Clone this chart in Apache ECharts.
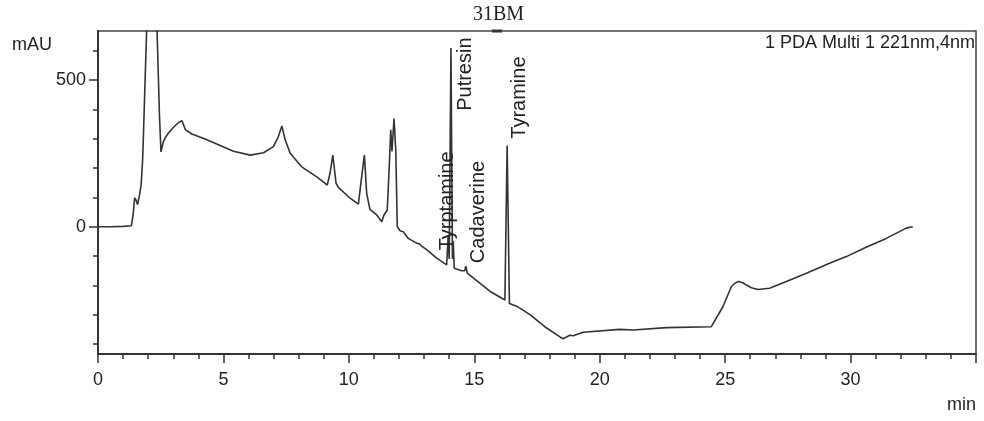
<!DOCTYPE html>
<html>
<head>
<meta charset="utf-8">
<script src="https://cdn.jsdelivr.net/npm/echarts@6/dist/echarts.min.js"></script>
<style>
html,body{margin:0;padding:0;background:#fff;}
#chart{width:984px;height:421px;}
</style>
</head>
<body>
<div id="chart"></div>
<script>
// Retention time (min)
var timeMin = [0, 0.5, 1.0, 1.33, 1.40, 1.46, 1.52, 1.58, 1.66, 1.72, 1.78, 1.82, 1.88, 1.95, 2.05, 2.15, 2.25, 2.35, 2.45, 2.51,
  2.61, 2.70, 2.81, 3.0, 3.15, 3.25, 3.35, 3.42, 3.48, 3.74, 4.27, 4.94, 5.4, 6.07, 6.6, 6.99, 7.19, 7.33, 7.46, 7.66, 8.12, 8.72, 8.98,
  9.14, 9.25, 9.36, 9.49, 9.58, 10.05, 10.38, 10.51, 10.62, 10.71, 10.84, 11.11, 11.31, 11.40, 11.53, 11.61, 11.67, 11.72, 11.80, 11.87,
  11.93, 12.04, 12.17, 12.37, 12.70, 12.80, 12.90, 13.10, 13.50, 13.90, 13.96, 14.00, 14.07, 14.13, 14.16, 14.20, 14.50, 14.62, 14.66, 14.72,
  15.62, 16.22, 16.31, 16.40, 16.69, 17.22, 17.81, 18.40, 18.54, 18.70, 18.81, 18.88, 18.94, 19.34, 20.8, 21.33, 22.66, 24.45, 24.91, 25.25,
  25.40, 25.55, 25.70, 25.85, 26.05, 26.31, 26.77, 27.44, 28.24, 29.16, 29.83, 30.62, 31.42, 32.22, 32.48];
// Absorbance (mAU)
var absorbance = [0, 0, 1, 3, 40, 98, 90, 75, 110, 143, 230, 336, 507, 700, 1200, 1500, 1200, 680, 380, 255,
  291, 306, 319, 338, 350, 357, 361, 345, 331, 316, 299, 274, 257, 244, 252, 273, 307, 343, 296, 250, 204, 170, 153,
  142, 182, 244, 148, 134, 97, 77, 170, 244, 114, 59, 40, 17, 40, 57, 204, 330, 256, 369, 261,
  0, -14, -17, -40, -56, -58, -66, -78, -107, -130, -30, -110, 609, -110, -50, -142, -150, -150, -135, -158,
  -220, -250, 277, -262, -271, -300, -341, -375, -382, -375, -370, -376, -372, -360, -350, -352, -344, -341, -273, -204,
  -192, -187, -191, -199, -208, -214, -210, -187, -159, -125, -102, -70, -40, -5, 0];

// Axis ticks / labels
var xLabels = [0, 5, 10, 15, 20, 25, 30];
var yMajor = [0, 500];
var yMinor = [-400, -300, -200, -100, 0, 100, 200, 300, 400, 500, 600];

// Peak annotations: label centre (time, mAU)
var peakNames = ['Tyrptamine', 'Putresin', 'Cadaverine', 'Tyramine'];
var peakTimes = [13.95, 14.65, 15.15, 16.82];
var peakLevels = [88, 520, 50, 440];

var chart = echarts.init(document.getElementById('chart'));
var txt = '#222';
var font = "'Liberation Sans', Arial, sans-serif";
var data = timeMin.map(function (t, i) { return [t, absorbance[i]]; });

chart.setOption({
  animation: false,
  backgroundColor: '#fff',
  grid: { left: 98, right: 8, top: 31, bottom: 67, show: true, borderColor: '#444', borderWidth: 1.5 },
  xAxis: [{
    type: 'value', min: 0, max: 35, interval: 5,
    axisLine: { onZero: false, lineStyle: { color: '#333', width: 2 } },
    axisTick: { length: 9, lineStyle: { color: '#333', width: 1.5 } },
    minorTick: { show: true, splitNumber: 5, length: 5, lineStyle: { color: '#333', width: 1.5 } },
    axisLabel: { customValues: xLabels, margin: 17, color: txt, fontSize: 18, fontFamily: font },
    splitLine: { show: false }
  }],
  yAxis: [{
    type: 'value', min: -434, max: 667,
    axisLine: { onZero: false, lineStyle: { color: '#333', width: 2 } },
    axisTick: { customValues: yMajor, length: 9, lineStyle: { color: '#333', width: 1.5 } },
    axisLabel: { customValues: yMajor, margin: 12, color: txt, fontSize: 18, fontFamily: font },
    splitLine: { show: false }
  }, {
    type: 'value', min: -434, max: 667, position: 'left', offset: 0,
    axisLine: { show: false, onZero: false },
    axisTick: { customValues: yMinor, length: 5, lineStyle: { color: '#333', width: 1.5 } },
    axisLabel: { show: false },
    splitLine: { show: false }
  }],
  graphic: [
    { type: 'text', left: 12, top: 36, style: { text: 'mAU', fill: txt, font: '18px ' + font } },
    { type: 'text', right: 9, top: 34, style: { text: '1 PDA Multi 1 221nm,4nm', fill: txt, font: '18px ' + font } },
    { type: 'text', right: 8, top: 396, style: { text: 'min', fill: txt, font: '18px ' + font } },
    { type: 'text', left: 473, top: 5, style: { text: '31BM', fill: txt, font: "20px 'Liberation Serif', 'Times New Roman', serif" } },
    { type: 'rect', shape: { x: 492, y: 29.5, width: 10, height: 3 }, style: { fill: '#333' } }
  ],
  series: [{
    type: 'line',
    data: data,
    xAxisIndex: 0, yAxisIndex: 0,
    symbol: 'none',
    clip: true,
    lineStyle: { color: '#333', width: 1.6 },
    markPoint: {
      symbol: 'circle', symbolSize: 0,
      label: { show: true, position: 'inside', rotate: 90, color: txt, fontSize: 20, fontFamily: font, formatter: '{b}' },
      data: peakNames.map(function (n, i) { return { name: n, coord: [peakTimes[i], peakLevels[i]] }; })
    }
  }]
});
</script>
</body>
</html>
